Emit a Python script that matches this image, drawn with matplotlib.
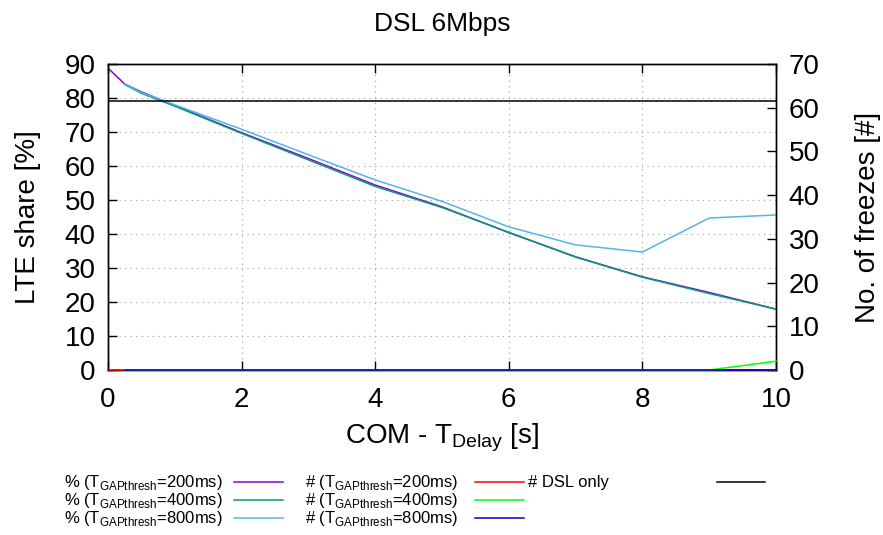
import matplotlib
matplotlib.use("Agg")
import matplotlib.pyplot as plt
from matplotlib.lines import Line2D

plt.rcParams["font.family"] = ["Liberation Sans", "DejaVu Sans"]
plt.rcParams["mathtext.fontset"] = "custom"
plt.rcParams["mathtext.rm"] = "Liberation Sans"

# T_Delay [s]
x_200 = [0, 0.25, 0.5, 1, 2, 3, 4, 5, 6, 7, 8, 9, 10]
x_rest = [0.25, 0.5, 1, 2, 3, 4, 5, 6, 7, 8, 9, 10]

# LTE share [%]
share_200 = [88.8, 84.1, 81.8, 77.8, 69.8, 62.2, 54.4, 48.0, 40.4, 33.3, 27.4, 22.8, 17.9]
share_400 = [84.0, 81.4, 77.6, 69.6, 61.8, 54.0, 47.8, 40.5, 33.2, 27.3, 22.5, 17.9]
share_800 = [84.2, 81.6, 78.0, 70.8, 63.3, 55.9, 49.6, 42.1, 36.8, 34.7, 44.7, 45.6]

# number of freezes [#]
freeze_200 = [0, 0, 0, 0, 0, 0, 0, 0, 0, 0, 0, 0, 0]
freeze_400 = [0, 0, 0, 0, 0, 0, 0, 0, 0, 0, 0, 2.0]
freeze_800 = [0, 0, 0, 0, 0, 0, 0, 0, 0, 0, 0, 0]
dsl_x = [0, 10]
dsl_only = [61.5, 61.5]

sub = r"$_{\mathregular{GAPthresh}}$"
labels_pct = ["%% (T%s=%dms)" % (sub, t) for t in (200, 400, 800)]
labels_num = ["# (T%s=%dms)" % (sub, t) for t in (200, 400, 800)]
colors_pct = ["#9400d3", "#009e73", "#56b4e9"]
colors_num = ["#ff0000", "#00ff00", "#0000cd"]

W, H = 883, 535
fig = plt.figure(figsize=(W / 100, H / 100), dpi=100)
ax = fig.add_axes([108 / W, 1 - 370 / H, (776 - 108) / W, (370 - 64) / H])
ax2 = ax.twinx()

lw = 1.1
ax.plot(x_200, share_200, color=colors_pct[0], lw=lw, zorder=3)
ax.plot(x_rest, share_400, color=colors_pct[1], lw=lw, zorder=3)
ax.plot(x_rest, share_800, color=colors_pct[2], lw=lw, zorder=3)

ax2.plot(x_200, freeze_200, color=colors_num[0], lw=lw, clip_on=False, zorder=4)
ax2.plot(x_rest, freeze_400, color=colors_num[1], lw=lw, clip_on=False, zorder=4)
ax2.plot(x_rest, freeze_800, color=colors_num[2], lw=lw, clip_on=False, zorder=4)
ax2.plot(dsl_x, dsl_only, color="black", lw=lw, zorder=4)

ax.set_xlim(0, 10)
ax.set_ylim(0, 90)
ax2.set_ylim(0, 70)
ax.set_xticks(range(0, 11, 2))
ax.set_yticks(range(0, 91, 10))
ax2.set_yticks(range(0, 71, 10))

ax.grid(True, color="#a0a0a0", linestyle=(0, (1, 4)), linewidth=0.8)
ax.set_axisbelow(True)

fs_tick = 20
ax.tick_params(axis="y", direction="in", length=6.5, width=1.0, labelsize=fs_tick, right=False, pad=9)
ax.tick_params(axis="x", direction="in", length=6.5, width=1.0, labelsize=fs_tick, top=True, pad=12)
ax2.tick_params(direction="in", length=6.5, width=1.0, labelsize=fs_tick, pad=9)
for a in (ax, ax2):
    for s in a.spines.values():
        s.set_linewidth(1.0)

fs_label = 20
ax.set_xlabel("COM - T$_{\\mathregular{Delay}}$ [s]", fontsize=fs_label, va="center")
ax.set_ylabel("LTE share [%]", fontsize=fs_label, va="center")
ax2.set_ylabel("No. of freezes [#]", fontsize=fs_label, va="center")
ax.xaxis.set_label_coords(0.5, (370 - 438) / 306)
ax.yaxis.set_label_coords((28 - 108) / 668, 0.5)
ax2.yaxis.set_label_coords((868 - 108) / 668, 0.5)
ax.set_title("DSL 6Mbps", fontsize=19, pad=24)

# gnuplot-style key below the plot: text right-aligned, then the sample
rows = [482, 500, 518]
fs = 12


def key_entry(text_right, x0, x1, y, label, color):
    if label:
        fig.text(text_right / W, 1 - (y + 1) / H, label, ha="right", va="center", fontsize=fs)
    fig.add_artist(Line2D([x0 / W, x1 / W], [1 - y / H, 1 - y / H], color=color, lw=lw))


for i in range(3):
    key_entry(223, 234, 283, rows[i], labels_pct[i], colors_pct[i])
    key_entry(458, 475, 524, rows[i], labels_num[i], colors_num[i])
fig.text(528 / W, 1 - (rows[0] + 1) / H, "# DSL only", ha="left", va="center", fontsize=fs)
fig.add_artist(Line2D([717 / W, 765 / W], [1 - rows[0] / H, 1 - rows[0] / H], color="black", lw=lw))

fig.savefig("out.png", dpi=100)
